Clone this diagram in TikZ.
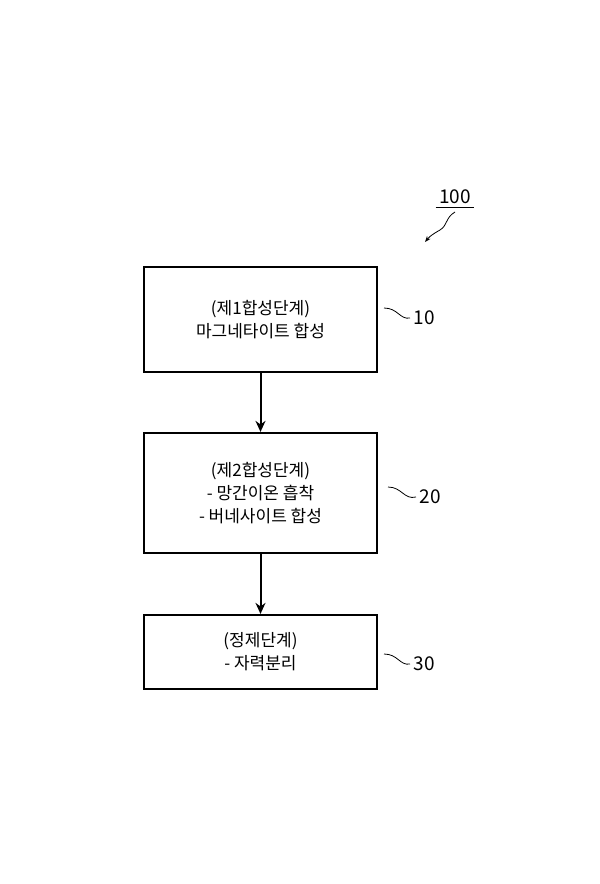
\documentclass[tikz,border=0pt]{standalone}
\usepackage{fontspec}
\setmainfont{Noto Sans CJK KR}
\usetikzlibrary{arrows.meta}
\begin{document}
\begin{tikzpicture}[x=1pt,y=-1pt,
  stepbox/.style={draw,line width=2.2pt,minimum width=233pt,align=center,font=\fontsize{17}{23}\selectfont,inner sep=0pt},
  lbl/.style={font=\fontsize{19}{22}\selectfont},
  conn/.style={line width=2pt,-{Stealth[length=11pt,width=10pt]}},
  sq/.style={line width=0.8pt}]
\useasboundingbox[fill=white] (0,0) rectangle (600,884);
\node[stepbox,minimum height=105pt] (b1) at (260.5,319.5) {(제1합성단계)\\마그네타이트 합성};
\node[stepbox,minimum height=120pt] (b2) at (260.5,493) {(제2합성단계)\\- 망간이온 흡착\\- 버네사이트 합성};
\node[stepbox,minimum height=74pt] (b3) at (260.5,652) {(정제단계)\\- 자력분리};
\draw[conn] (b1) -- (b2);
\draw[conn] (b2) -- (b3);
\node[lbl,anchor=west] (l1) at (410,318) {10};
\node[lbl,anchor=west] (l2) at (416,497) {20};
\node[lbl,anchor=west] (l3) at (410,664) {30};
\node[lbl] (l0) at (455,197) {100};
\draw[sq] (l0.south west) -- (l0.south east);
\draw[sq] (384,308) .. controls (398,308) and (400,320) .. (l1.west);
\draw[sq] (388,487) .. controls (402,487) and (404,500) .. (l2.west);
\draw[sq] (384,654) .. controls (398,654) and (400,666) .. (l3.west);
\coordinate (t0) at (425,242);
\draw[sq,-{Stealth[length=6pt]}] (455,212) .. controls (445,218) and (448,225) .. (440,230) .. controls (433,234) and (430,236) .. (t0);
\end{tikzpicture}
\end{document}
